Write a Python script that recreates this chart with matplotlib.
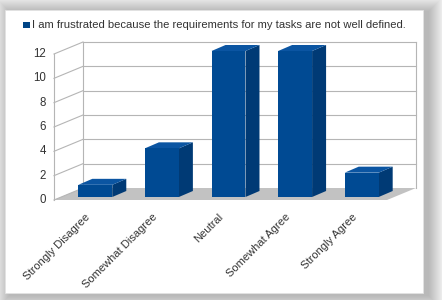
import matplotlib
matplotlib.use("Agg")
import matplotlib.pyplot as plt
from matplotlib.patches import Rectangle, Polygon

plt.rcParams['font.family'] = ['Liberation Sans', 'DejaVu Sans']

# data
categories = ['Strongly Disagree', 'Somewhat Disagree', 'Neutral',
              'Somewhat Agree', 'Strongly Agree']
counts = [1, 4, 12, 12, 2]
yticks = [0, 2, 4, 6, 8, 10, 12]
series_name = 'I am frustrated because the requirements for my tasks are not well defined.'

W, H = 442, 300
fig = plt.figure(figsize=(W / 100, H / 100), dpi=100)
fig.patch.set_facecolor('white')

# card with soft shadow (pixel coords background axes)
bg = fig.add_axes([0, 0, 1, 1], zorder=0)
bg.set_xlim(0, W)
bg.set_ylim(H, 0)
bg.axis('off')
for r in range(18, 0, -1):
    bg.add_patch(Rectangle((5 + 5 - r, 10 + 2 - r), 418 + 2 * r, 283 + 2 * r,
                           facecolor='black', edgecolor='none', alpha=0.016))
bg.add_patch(Rectangle((5, 10), 418, 283, facecolor='white', edgecolor='#e2e2e2', lw=0.6))

# legend
bg.add_patch(Rectangle((23, 21.5), 6.5, 6.5, facecolor='#004586', edgecolor='none'))
bg.text(32, 25, series_name, fontsize=8.15, color='#333333', va='center', ha='left')

# chart axes = back wall plane
ax = fig.add_axes([83 / W, (H - 188) / H, 333 / W, 146 / H], zorder=1)
ax.set_xlim(-0.5, len(categories) - 0.5)
ax.set_ylim(0, 12)
ax.axis('off')

# pixel -> data unit conversion for the depth offsets
fig.canvas.draw()
p0 = ax.transData.transform((0, 0))
p1 = ax.transData.transform((1, 1))
sx = p1[0] - p0[0]
sy = p1[1] - p0[1]


def off(px, py):
    return px / sx, py / sy


floor_dx, floor_dy = off(-29, -12)
front_dx, front_dy = off(-21, -9)
back_dx, back_dy = off(-7, -3)

grid_c = '#b5b5b5'
x_left, x_right = -0.5, len(categories) - 0.5

# floor
ax.add_patch(Polygon([(x_left, 0), (x_right, 0), (x_right + floor_dx, floor_dy),
                      (x_left + floor_dx, floor_dy)], closed=True,
                     facecolor='#c2c2c2', edgecolor='none', clip_on=False, zorder=1))

# back wall grid + left wall
for v in yticks:
    if v > 0:
        ax.plot([x_left, x_right], [v, v], color=grid_c, lw=0.8, clip_on=False, zorder=2)
    ax.plot([x_left, x_left + floor_dx], [v, v + floor_dy], color=grid_c, lw=0.8,
            clip_on=False, zorder=2)
    ax.text(x_left + floor_dx + off(-8, 0)[0], v + floor_dy, str(v), fontsize=8.3,
            color='#333333', ha='right', va='center')
ax.plot([x_left, x_left], [0, 12], color=grid_c, lw=0.8, clip_on=False, zorder=2)
ax.plot([x_right, x_right], [0, 12], color=grid_c, lw=0.8, clip_on=False, zorder=2)
ax.plot([x_left + floor_dx] * 2, [floor_dy, 12 + floor_dy], color=grid_c, lw=0.8,
        clip_on=False, zorder=2)

# 3d bars
bw = 0.51
c_front, c_side, c_top = '#004a93', '#003a75', '#0b55a2'
for i, v in enumerate(counts):
    xa = i - bw / 2 + front_dx
    xb = i + bw / 2 + front_dx
    ya = front_dy
    yb = v + front_dy
    ddx = back_dx - front_dx
    ddy = back_dy - front_dy
    ax.add_patch(Polygon([(xb, ya), (xb + ddx, ya + ddy), (xb + ddx, yb + ddy), (xb, yb)],
                         closed=True, facecolor=c_side, edgecolor='none',
                         clip_on=False, zorder=3))
    ax.add_patch(Polygon([(xa, yb), (xb, yb), (xb + ddx, yb + ddy), (xa + ddx, yb + ddy)],
                         closed=True, facecolor=c_top, edgecolor='none',
                         clip_on=False, zorder=3))
    ax.add_patch(Rectangle((xa, ya), xb - xa, yb - ya, facecolor=c_front,
                           edgecolor='none', clip_on=False, zorder=4))

# category labels
for i, name in enumerate(categories):
    ax.text(i + floor_dx + off(-2, 0)[0], floor_dy + off(0, -12)[1], name, fontsize=8,
            color='#333333', rotation=45, ha='right', va='top', rotation_mode='anchor')

fig.savefig('out.png', dpi=100)
